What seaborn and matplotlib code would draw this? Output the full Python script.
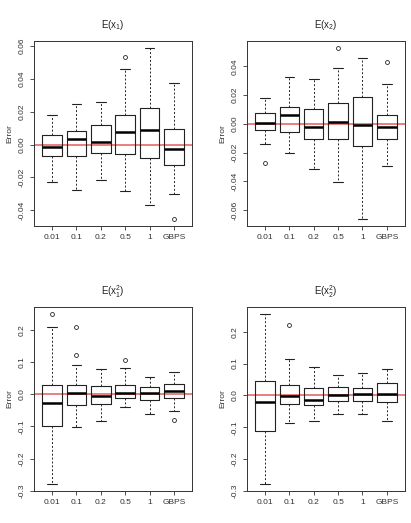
import numpy as np
import matplotlib
matplotlib.use("Agg")
import matplotlib.pyplot as plt
import seaborn as sns

sns.set_style("ticks")
plt.rcParams['font.family'] = ['Liberation Sans', 'DejaVu Sans']
plt.rcParams['axes.unicode_minus'] = False

groups = ["0.01", "0.1", "0.2", "0.5", "1", "GBPS"]
titles = [r"E($\mathregular{x_1}$)", r"E($\mathregular{x_2}$)",
          r"E($\mathregular{x_1^2}$)", r"E($\mathregular{x_2^2}$)"]

# summary stats: lower whisker, Q1, median, Q3, upper whisker
x1_lo = [-0.0230, -0.0274, -0.0215, -0.0280, -0.0370, -0.0301]
x1_q1 = [-0.0071, -0.0071, -0.0049, -0.0059, -0.0079, -0.0122]
x1_med = [-0.0012, 0.0035, 0.0018, 0.0079, 0.0089, -0.0026]
x1_q3 = [0.0061, 0.0081, 0.0116, 0.0177, 0.0222, 0.0092]
x1_hi = [0.0179, 0.0244, 0.0256, 0.0461, 0.0589, 0.0372]
x1_out = [[], [], [], [0.0533], [], [-0.0453]]

x2_lo = [-0.0142, -0.0200, -0.0317, -0.0406, -0.0664, -0.0296]
x2_q1 = [-0.0040, -0.0056, -0.0103, -0.0103, -0.0156, -0.0103]
x2_med = [0.0007, 0.0063, -0.0019, 0.0014, -0.0007, -0.0021]
x2_q3 = [0.0075, 0.0117, 0.0100, 0.0145, 0.0184, 0.0061]
x2_hi = [0.0182, 0.0329, 0.0315, 0.0387, 0.0457, 0.0280]
x2_out = [[-0.0273], [], [], [0.0531], [], [0.0429]]

x1sq_lo = [-0.280, -0.101, -0.082, -0.040, -0.063, -0.053]
x1sq_q1 = [-0.100, -0.035, -0.029, -0.012, -0.018, -0.011]
x1sq_med = [-0.026, 0.003, -0.004, 0.005, 0.004, 0.011]
x1sq_q3 = [0.030, 0.028, 0.027, 0.030, 0.021, 0.033]
x1sq_hi = [0.210, 0.092, 0.079, 0.080, 0.053, 0.070]
x1sq_out = [[0.250], [0.209, 0.123], [], [0.107], [], [-0.079]]

x2sq_lo = [-0.278, -0.085, -0.081, -0.058, -0.058, -0.081]
x2sq_q1 = [-0.110, -0.027, -0.030, -0.017, -0.018, -0.020]
x2sq_med = [-0.020, -0.003, -0.013, 0.001, 0.006, 0.004]
x2sq_q3 = [0.044, 0.033, 0.024, 0.028, 0.023, 0.039]
x2sq_hi = [0.256, 0.115, 0.090, 0.065, 0.070, 0.083]
x2sq_out = [[], [0.221], [], [], [], []]

panels = [
    (x1_lo, x1_q1, x1_med, x1_q3, x1_hi, x1_out),
    (x2_lo, x2_q1, x2_med, x2_q3, x2_hi, x2_out),
    (x1sq_lo, x1sq_q1, x1sq_med, x1sq_q3, x1sq_hi, x1sq_out),
    (x2sq_lo, x2sq_q1, x2sq_med, x2sq_q3, x2sq_hi, x2sq_out),
]
yticks = [np.arange(-0.04, 0.061, 0.02), np.arange(-0.06, 0.041, 0.02),
          np.arange(-0.3, 0.21, 0.1), np.arange(-0.3, 0.21, 0.1)]
yfmt = ["%.2f", "%.2f", "%.1f", "%.1f"]

# axes rectangles in figure fractions
rects = [[0.083, 0.568, 0.384, 0.354], [0.601, 0.568, 0.384, 0.354],
         [0.083, 0.061, 0.384, 0.352], [0.601, 0.061, 0.384, 0.352]]

fig = plt.figure(figsize=(4.11, 5.23), dpi=100)

for i, (lo, q1, med, q3, hi, out) in enumerate(panels):
    ax = fig.add_axes(rects[i])
    stats = []
    for j in range(len(groups)):
        stats.append(dict(whislo=lo[j], q1=q1[j], med=med[j], q3=q3[j],
                          whishi=hi[j], fliers=out[j], label=groups[j]))
    ax.bxp(stats, widths=0.8, capwidths=0.4, patch_artist=False,
           boxprops=dict(color="#222222", lw=0.8),
           medianprops=dict(color="black", lw=1.8, solid_capstyle="butt"),
           whiskerprops=dict(color="#222222", lw=0.7, linestyle=(0, (2, 2))),
           capprops=dict(color="#222222", lw=0.8),
           flierprops=dict(marker="o", markersize=2.8, markerfacecolor="none",
                           markeredgecolor="#222222", markeredgewidth=0.6))
    ax.axhline(0, color="#e04040", lw=1.1, alpha=0.85, zorder=0.5)

    vals = lo + hi + sum(out, [])
    vmin, vmax = min(vals), max(vals)
    ext = 0.04 * (vmax - vmin)
    ax.set_ylim(vmin - ext, vmax + ext)
    ax.set_xlim(0.26, 6.74)
    ax.set_yticks(yticks[i])
    ax.set_yticklabels([yfmt[i] % v if abs(v) > 1e-9 else yfmt[i] % 0 for v in yticks[i]],
                       rotation=90, va="center")
    ax.set_xticks(range(1, 7))
    ax.set_xticklabels(groups)
    ax.tick_params(axis="both", labelsize=6, length=3, width=0.6, pad=3,
                   color="#333333", labelcolor="#333333")
    for s in ax.spines.values():
        s.set_linewidth(0.7)
        s.set_color("#333333")
    ax.set_ylabel("Error", fontsize=6, color="#333333", labelpad=4)
    ax.set_title(titles[i], fontsize=7, color="#222222", pad=9)

fig.savefig("out.png", dpi=100)
